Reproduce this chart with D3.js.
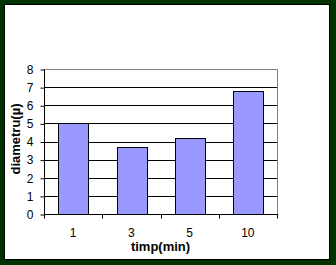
<!DOCTYPE html>
<html>
<head>
<meta charset="utf-8">
<script src="https://cdn.jsdelivr.net/npm/d3@7"></script>
<style>
  html, body { margin: 0; padding: 0; background: #003300; }
  svg { display: block; }
  text { font-family: "Liberation Sans", Arial, sans-serif; }
</style>
</head>
<body>
<div id="chart"></div>
<script>
const FRAME_WIDTH = 336;
const FRAME_HEIGHT = 265;
const PLOT = {left: 44, right: 277, top: 69, bottom: 214};

// data
const categories = ["1", "3", "5", "10"];
const values = [5, 3.7, 4.2, 6.8];
const yTicks = [0, 1, 2, 3, 4, 5, 6, 7, 8];
const xTitle = "timp(min)";
const yTitle = "diametru(\u00b5)";

const svg = d3.select("#chart")
  .append("svg")
    .attr("width", FRAME_WIDTH)
    .attr("height", FRAME_HEIGHT);

// dark green frame with a thin black edge
svg.append("rect")
  .attr("width", FRAME_WIDTH).attr("height", FRAME_HEIGHT)
  .attr("fill", "#003300");
svg.append("rect")
  .attr("x", 4.5).attr("y", 4.5)
  .attr("width", 325).attr("height", 255)
  .attr("fill", "#ffffff")
  .attr("stroke", "#000000");

const X_SCALE = d3.scaleBand()
  .domain(categories)
  .range([PLOT.left, PLOT.right])
  .paddingInner(0.49)
  .paddingOuter(0.245);

const Y_SCALE = d3.scaleLinear()
  .domain([0, 8])
  .range([PLOT.bottom, PLOT.top]);

// gridlines
svg.append("g")
  .selectAll("line")
  .data(yTicks.filter(d => d > 0))
  .enter()
  .append("line")
    .attr("x1", PLOT.left).attr("x2", PLOT.right)
    .attr("y1", d => Math.round(Y_SCALE(d)) + 0.5)
    .attr("y2", d => Math.round(Y_SCALE(d)) + 0.5)
    .attr("stroke", d => d === 8 ? "#808080" : "#000000");

// right border of plot area
svg.append("line")
  .attr("x1", PLOT.right + 0.5).attr("x2", PLOT.right + 0.5)
  .attr("y1", PLOT.top).attr("y2", PLOT.bottom)
  .attr("stroke", "#808080");

// bars
svg.append("g")
  .selectAll("rect")
  .data(values)
  .enter()
  .append("rect")
    .attr("x", (d, i) => Math.round(X_SCALE(categories[i])) + 0.5)
    .attr("y", d => Math.round(Y_SCALE(d)) + 0.5)
    .attr("width", Math.round(X_SCALE.bandwidth()))
    .attr("height", d => Math.round(Y_SCALE(0)) - Math.round(Y_SCALE(d)))
    .attr("fill", "#9999ff")
    .attr("stroke", "#000000");

// y axis
const yAxis = svg.append("g")
  .attr("transform", "translate(" + (PLOT.left + 0.5) + ",0.5)")
  .call(d3.axisLeft(Y_SCALE).tickValues(yTicks).tickSize(4).tickPadding(7)
        .tickFormat(d3.format("d")));
yAxis.select(".domain").attr("d", "M0," + PLOT.top + "V" + PLOT.bottom);
yAxis.selectAll("line").attr("stroke", "#000");
yAxis.selectAll("text")
  .attr("font-size", "12px")
  .attr("font-family", "Liberation Sans, Arial, sans-serif")
  .attr("fill", "#000");

// x axis, ticks at category boundaries
const xAxis = svg.append("g")
  .attr("transform", "translate(0," + (PLOT.bottom + 0.5) + ")");
xAxis.append("line")
  .attr("x1", PLOT.left).attr("x2", PLOT.right + 1)
  .attr("stroke", "#000");
const step = X_SCALE.step();
xAxis.selectAll(".tick")
  .data(d3.range(categories.length + 1))
  .enter()
  .append("line")
    .attr("x1", i => Math.round(PLOT.left + i * step) + 0.5)
    .attr("x2", i => Math.round(PLOT.left + i * step) + 0.5)
    .attr("y1", 0).attr("y2", 4)
    .attr("stroke", "#000");
xAxis.selectAll(".lbl")
  .data(categories)
  .enter()
  .append("text")
    .attr("x", d => X_SCALE(d) + X_SCALE.bandwidth() / 2)
    .attr("y", 22.5)
    .attr("text-anchor", "middle")
    .attr("font-size", "12px")
    .text(d => d);

// axis titles
svg.append("text")
  .attr("x", (PLOT.left + PLOT.right) / 2)
  .attr("y", 251)
  .attr("text-anchor", "middle")
  .attr("font-size", "13px")
  .attr("font-weight", "bold")
  .text(xTitle);

svg.append("text")
  .attr("transform", "rotate(-90)")
  .attr("x", -139)
  .attr("y", 20)
  .attr("text-anchor", "middle")
  .attr("font-size", "13px")
  .attr("font-weight", "bold")
  .text(yTitle);
</script>
</body>
</html>
